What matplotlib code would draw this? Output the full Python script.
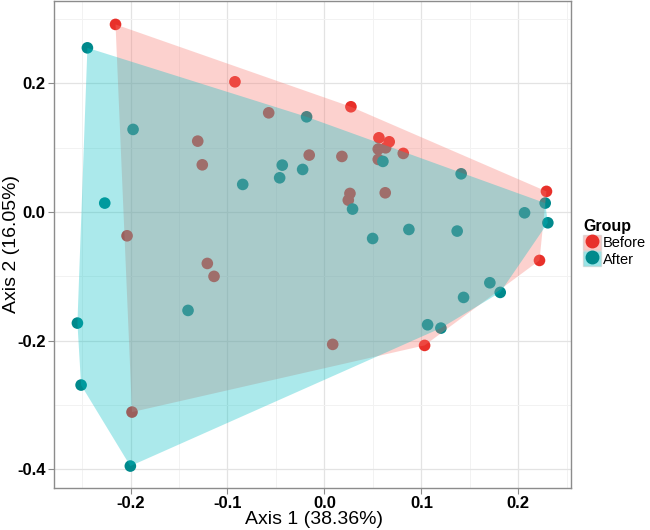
import numpy as np
import matplotlib
matplotlib.use("Agg")
import matplotlib.pyplot as plt
from matplotlib.patches import Patch, Polygon
from matplotlib.lines import Line2D

plt.rcParams['font.family'] = ['Liberation Sans', 'DejaVu Sans']
plt.rcParams['axes.unicode_minus'] = False

# PCoA coordinates
before_x = [-0.2155, -0.0923, -0.0575, -0.1307, -0.1260, -0.0157, -0.2036, -0.1208,
            -0.1139, -0.1985, 0.0085, 0.0273, 0.0562, 0.0668, 0.0555, 0.0631,
            0.0813, 0.0180, 0.0555, 0.2290, 0.0263, 0.0246, 0.0627, 0.2218, 0.1033]
before_y = [0.2917, 0.2025, 0.1543, 0.1103, 0.0735, 0.0886, -0.0368, -0.0798,
            -0.0999, -0.3108, -0.2056, 0.1637, 0.1155, 0.1093, 0.0979, 0.0999,
            0.0912, 0.0865, 0.0819, 0.0322, 0.0290, 0.0186, 0.0300, -0.0751, -0.2072]
after_x = [-0.2445, -0.0184, -0.1974, -0.0435, -0.0462, -0.0225, -0.0843, -0.2266,
           -0.1407, -0.2548, -0.2510, -0.2002, 0.0603, 0.1410, 0.0290, 0.2277,
           0.2064, 0.2304, 0.0871, 0.1369, 0.0497, 0.1706, 0.1813, 0.1435, 0.1064, 0.1201]
after_y = [0.2553, 0.1481, 0.1285, 0.0730, 0.0533, 0.0663, 0.0430, 0.0140,
           -0.1528, -0.1725, -0.2688, -0.3947, 0.0788, 0.0595, 0.0047, 0.0140,
           -0.0011, -0.0166, -0.0270, -0.0295, -0.0410, -0.1098, -0.1248, -0.1326, -0.1751, -0.1803]

groups = ["Before", "After"]
point_cols = ["#E8302A", "#00898C"]
hull_cols = ["#F8766D", "#00BFC4"]


def convex_hull(xs, ys):
    pts = sorted(set(zip(xs, ys)))
    def cross(o, a, b):
        return (a[0] - o[0]) * (b[1] - o[1]) - (a[1] - o[1]) * (b[0] - o[0])
    lower, upper = [], []
    for p in pts:
        while len(lower) >= 2 and cross(lower[-2], lower[-1], p) <= 0:
            lower.pop()
        lower.append(p)
    for p in reversed(pts):
        while len(upper) >= 2 and cross(upper[-2], upper[-1], p) <= 0:
            upper.pop()
        upper.append(p)
    return lower[:-1] + upper[:-1]


fig = plt.figure(figsize=(6.5, 5.3), dpi=100)
ax = fig.add_axes([0.083, 0.079, 0.795, 0.919])

data = [(before_x, before_y), (after_x, after_y)]
for (xs, ys), pc in zip(data, point_cols):
    ax.scatter(xs, ys, s=70, color=pc, edgecolors='none', zorder=3)
for (xs, ys), hc in zip(data, hull_cols):
    ax.add_patch(Polygon(convex_hull(xs, ys), closed=True, facecolor=hc,
                         alpha=0.33, edgecolor='none', zorder=4))

ax.set_xlim(-0.279, 0.254)
ax.set_ylim(-0.429, 0.328)
ax.set_xticks([-0.2, -0.1, 0.0, 0.1, 0.2])
ax.set_yticks([-0.4, -0.2, 0.0, 0.2])
ax.set_xticks(np.arange(-0.25, 0.26, 0.1), minor=True)
ax.set_yticks([-0.3, -0.1, 0.1, 0.3], minor=True)
ax.grid(which='major', color='#E3E3E3', lw=0.9)
ax.grid(which='minor', color='#F2F2F2', lw=0.7)
ax.set_axisbelow(True)
for s in ax.spines.values():
    s.set_color('#8C8C8C')
    s.set_linewidth(1.0)
ax.tick_params(which='major', length=4, color='#8C8C8C', labelsize=12, pad=2)
ax.tick_params(which='minor', length=0)
for lab in ax.get_xticklabels() + ax.get_yticklabels():
    lab.set_fontweight('bold')

# axis titles placed by hand so they fit the small canvas
fig.text(314 / 650, 1 - 520 / 530, "Axis 1 (38.36%)", fontsize=14,
         ha='center', va='center')
fig.text(12 / 650, 1 - 244 / 530, "Axis 2 (16.05%)", fontsize=14,
         ha='center', va='center', rotation=90)

handles = []
for pc, hc in zip(point_cols, hull_cols):
    handles.append((Patch(facecolor=hc, alpha=0.4, edgecolor='#BBBBBB'),
                    Line2D([], [], marker='o', ls='none', color=pc, markersize=9)))
leg = fig.legend(handles, groups, title="Group", loc='upper left',
                 bbox_to_anchor=(583 / 650, 1 - 219 / 530), frameon=False, fontsize=10.5,
                 handlelength=1.25, handleheight=1.25, handletextpad=0.12,
                 labelspacing=0.05, borderaxespad=0, borderpad=0)
leg.get_title().set_fontweight('bold')
leg.get_title().set_fontsize(11.5)
leg._legend_box.align = "left"

fig.savefig("out.png", dpi=100)
